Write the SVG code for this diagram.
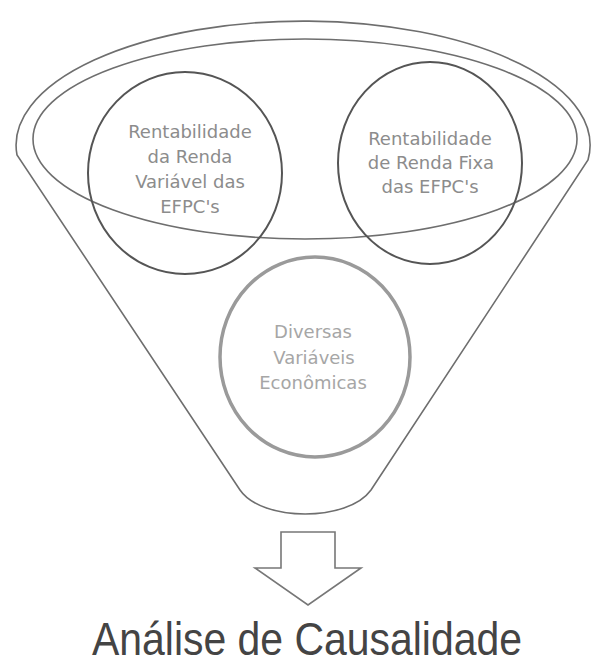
<svg xmlns="http://www.w3.org/2000/svg" width="594" height="672" viewBox="0 0 594 672">
<style>
.funnel{fill:none;stroke:#6e6e6e;stroke-width:1.6}
.circ{fill:none;stroke:#555;stroke-width:2}
.circ2{fill:none;stroke:#9a9a9a;stroke-width:3.5}
.lbl{font-family:"DejaVu Sans",sans-serif;font-size:18px;fill:#8c8c8c;text-anchor:middle}
.lbl2{font-family:"DejaVu Sans",sans-serif;font-size:18px;fill:#a6a6a6;text-anchor:middle}
.title{font-family:"Liberation Sans",sans-serif;font-size:46px;fill:#444;text-anchor:middle}
.arrow{fill:#fff;stroke:#777;stroke-width:1.6;stroke-linejoin:miter}
</style>
<rect width="594" height="672" fill="#fff"/>
<g id="funnel">
<path class="funnel" d="M240,490 L17,155 A287,124 0 1 1 588,160 L371,490 C348,522 262,522 240,490 Z"/>
<ellipse class="funnel" cx="305" cy="139" rx="272" ry="100"/>
</g>
<g id="node-rv">
<ellipse class="circ" cx="185" cy="173" rx="97" ry="101"/>
<text class="lbl" x="190" y="138">Rentabilidade</text>
<text class="lbl" x="190" y="163">da Renda</text>
<text class="lbl" x="190" y="188">Variável das</text>
<text class="lbl" x="190" y="213">EFPC's</text>
</g>
<g id="node-rf">
<ellipse class="circ" cx="430" cy="163" rx="92" ry="101"/>
<text class="lbl" x="430" y="145">Rentabilidade</text>
<text class="lbl" x="431" y="169">de Renda Fixa</text>
<text class="lbl" x="430" y="193">das  EFPC's</text>
</g>
<g id="node-econ">
<ellipse class="circ2" cx="315" cy="357" rx="95" ry="100"/>
<text class="lbl2" x="313" y="338">Diversas</text>
<text class="lbl2" x="314" y="364">Variáveis</text>
<text class="lbl2" x="313" y="389">Econômicas</text>
</g>
<g id="connectors">
<path class="arrow" d="M281,532 L335,532 L335,568 L361,568 L308,605 L255,568 L281,568 Z"/>
</g>
<g id="node-title">
<text class="title" x="307" y="655" textLength="430" lengthAdjust="spacingAndGlyphs">Análise de Causalidade</text>
</g>
</svg>
